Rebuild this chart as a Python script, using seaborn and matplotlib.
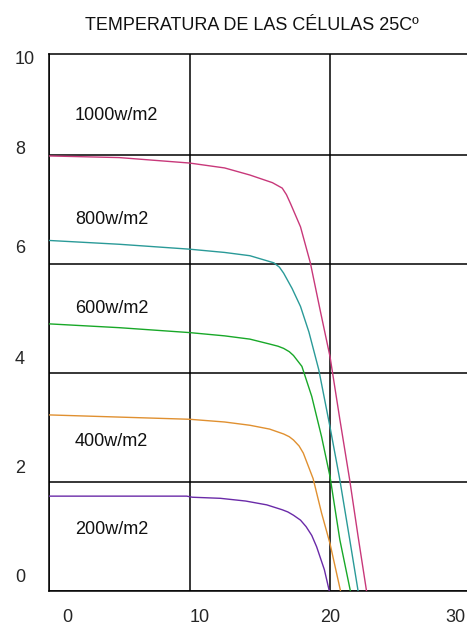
import pandas as pd
import seaborn as sns
import matplotlib.pyplot as plt

# --- Data ---
V_1000 = [0, 5, 10, 12.5, 14.3, 15.9, 16.6, 16.9, 17.2, 17.5, 17.9, 18.6, 19.3, 20.0, 20.7, 21.4, 22.0, 22.6]
I_1000 = [7.98, 7.95, 7.85, 7.76, 7.63, 7.49, 7.39, 7.27, 7.10, 6.92, 6.68, 6.02, 5.15, 4.30, 3.15, 2.04, 1.00, 0]

V_800 = [0, 5, 10, 12.5, 14.3, 16.0, 16.4, 16.7, 17.3, 17.9, 18.5, 19.2, 20.0, 20.7, 21.4, 22.0]
I_800 = [6.43, 6.36, 6.27, 6.21, 6.15, 6.02, 5.94, 5.83, 5.55, 5.22, 4.75, 4.06, 3.01, 2.04, 0.95, 0]

V_600 = [0, 5, 10, 12.5, 14.3, 15.7, 16.3, 16.7, 17.1, 17.4, 18.0, 18.7, 19.4, 20.0, 20.7, 21.45]
I_600 = [4.90, 4.83, 4.74, 4.68, 4.62, 4.53, 4.49, 4.45, 4.39, 4.32, 4.12, 3.57, 2.83, 2.10, 0.94, 0]

V_400 = [0, 5, 10, 12.5, 14.3, 15.7, 16.7, 17.1, 17.4, 17.8, 18.1, 18.8, 19.4, 20.0, 20.75]
I_400 = [3.23, 3.19, 3.15, 3.10, 3.04, 2.97, 2.88, 2.83, 2.77, 2.66, 2.53, 2.06, 1.43, 0.87, 0]

V_200 = [0, 9.8, 10.2, 12.2, 14.0, 15.5, 16.6, 17.0, 17.4, 17.9, 18.3, 18.7, 19.05, 19.6, 19.95]
I_200 = [1.74, 1.74, 1.72, 1.70, 1.65, 1.58, 1.49, 1.45, 1.39, 1.30, 1.18, 1.02, 0.81, 0.39, 0]

SERIES = ["1000w/m2", "800w/m2", "600w/m2", "400w/m2", "200w/m2"]
LABEL_Y = [8.73, 6.81, 5.19, 2.75, 1.12]
COLORS = ["#c8387a", "#2a9a98", "#18a828", "#e09030", "#6a2aa8"]

X_GRID = [0, 10, 20, 30]
Y_GRID = [0, 2, 4, 6, 8]
X_LABEL_POS = [1.28, 10.75, 20.03, 28.9]
X_LABELS = ["0", "10", "20", "30"]
Y_LABEL_POS = [0.29, 2.29, 4.29, 6.31, 8.13, 9.78]
Y_LABELS = ["0", "2", "4", "6", "8", "10"]

TITLE = "TEMPERATURA DE LAS CÉLULAS 25Cº"

frames = []
for name, v, i in zip(SERIES, [V_1000, V_800, V_600, V_400, V_200],
                      [I_1000, I_800, I_600, I_400, I_200]):
    frames.append(pd.DataFrame({"V": v, "I": i, "serie": name}))
df = pd.concat(frames, ignore_index=True)

sns.set_style("white")
plt.rcParams['font.family'] = ['Liberation Sans', 'DejaVu Sans']

fig = plt.figure(figsize=(4.67, 6.28), dpi=100)
ax = fig.add_axes([49 / 467, 37 / 628, 421.5 / 467, 537 / 628])

sns.lineplot(data=df, x="V", y="I", hue="serie", palette=dict(zip(SERIES, COLORS)),
             estimator=None, sort=False, linewidth=1.0, legend=False, ax=ax, zorder=3)

ax.set_xlim(0, 30)
ax.set_ylim(0, 9.85)

# gridlines on major ticks, labels on minor ticks (they sit off the lines)
ax.set_xticks(X_GRID)
ax.set_yticks(Y_GRID)
ax.set_xticklabels([])
ax.set_yticklabels([])
ax.set_xticks(X_LABEL_POS, minor=True)
ax.set_xticklabels(X_LABELS, minor=True)
ax.set_yticks(Y_LABEL_POS, minor=True)
ax.set_yticklabels(Y_LABELS, minor=True)
ax.tick_params(which="both", length=0)
ax.tick_params(axis="x", which="minor", pad=13, labelsize=13)
ax.tick_params(axis="y", which="minor", pad=24.5, labelsize=13)
for lab in ax.get_yticklabels(minor=True):
    lab.set_horizontalalignment("left")
ax.grid(True, which="major", color="black", linewidth=1.1)
ax.grid(False, which="minor")

for sp in ax.spines.values():
    sp.set_color("black")
    sp.set_linewidth(1.1)

ax.set_xlabel("")
ax.set_ylabel("")

for name, y in zip(SERIES, LABEL_Y):
    ax.text(1.85, y, name, fontsize=13, va="center", ha="left", color="#111111")

fig.text(0.54, 0.96, TITLE, fontsize=13, ha="center", va="center", color="#111111")

fig.savefig("out.png", dpi=100)
